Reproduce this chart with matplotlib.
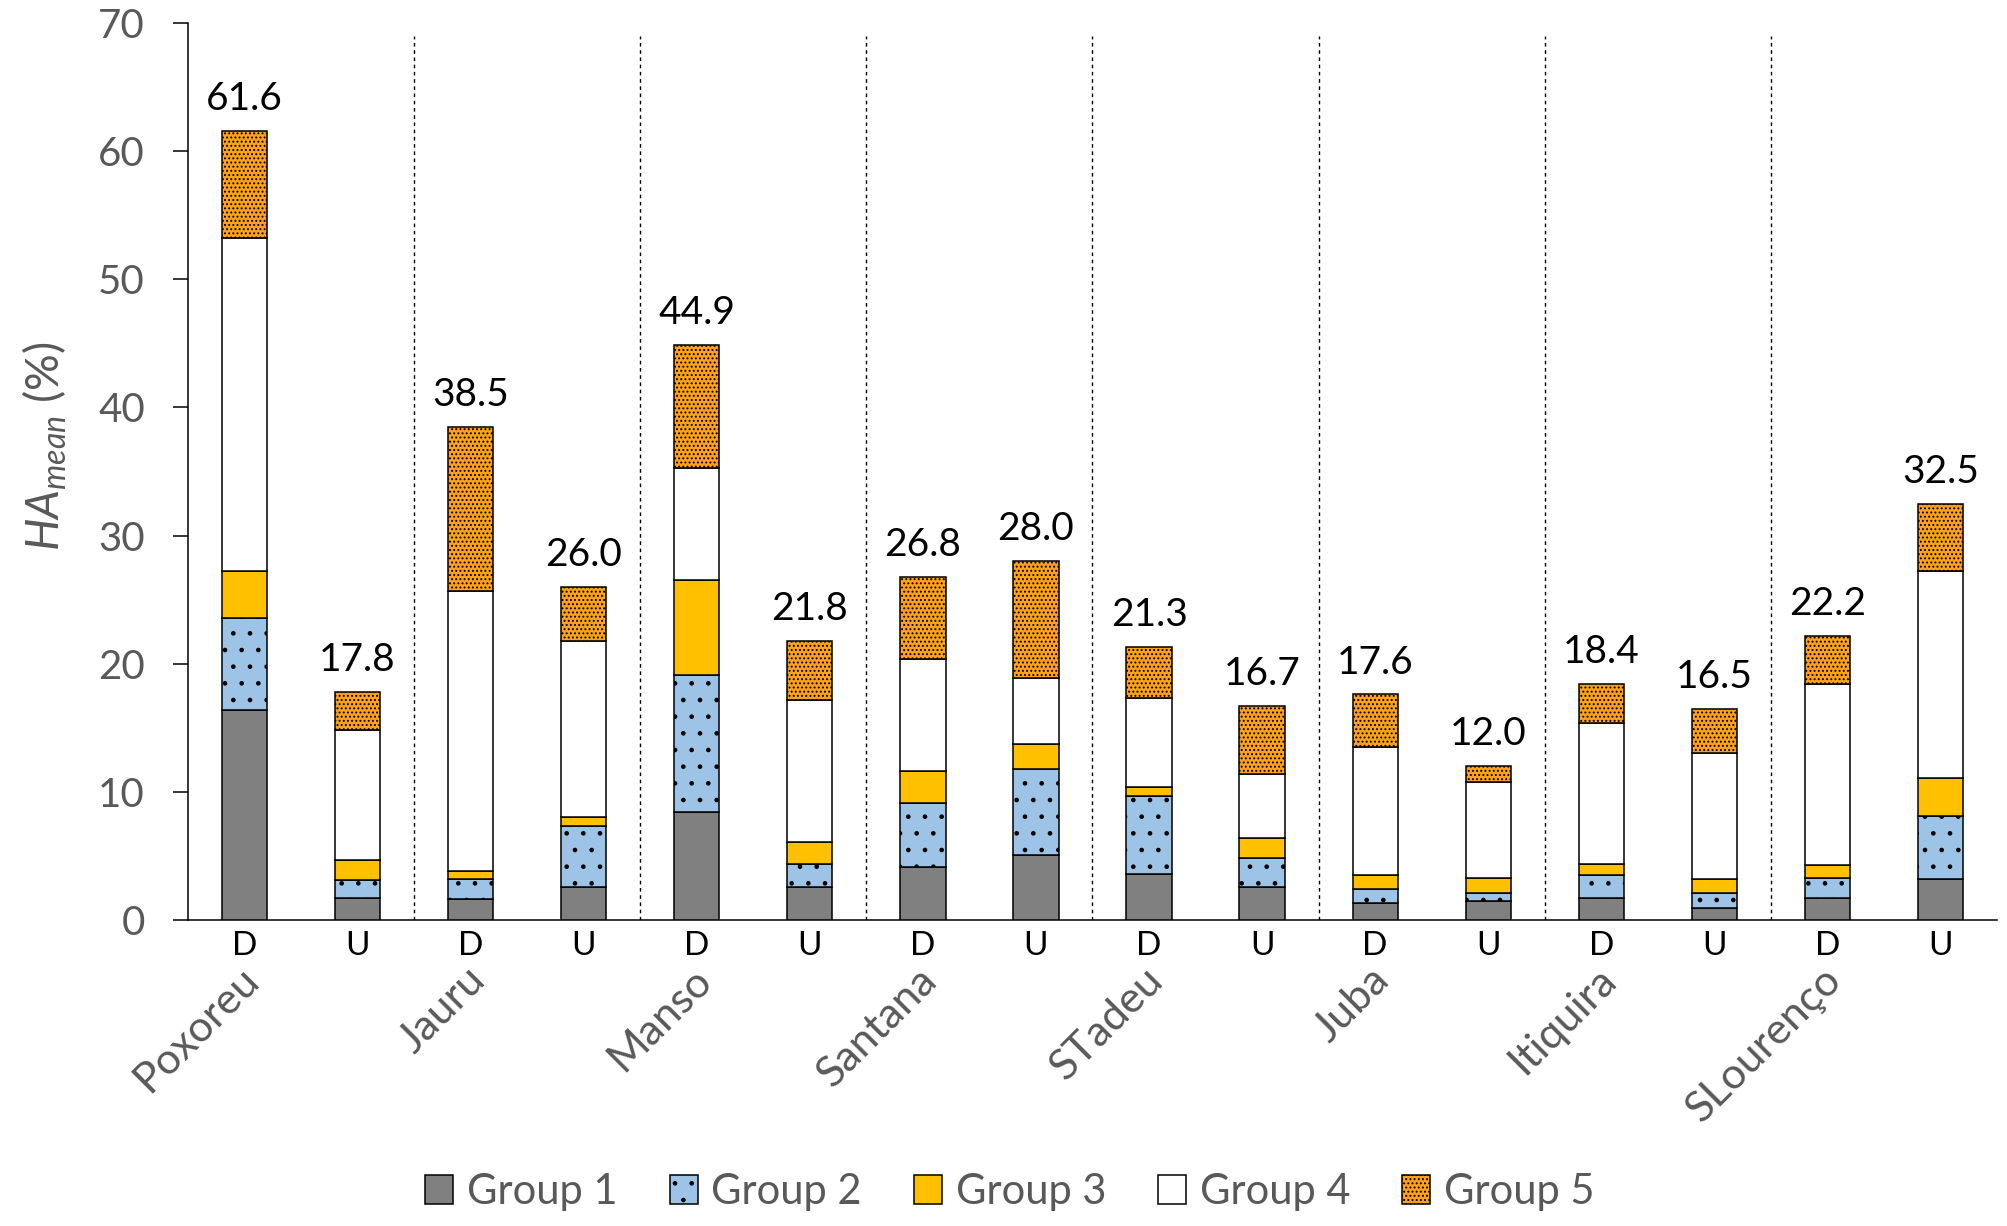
import matplotlib
matplotlib.use('Agg')
import matplotlib.pyplot as plt
import matplotlib.transforms as mtransforms
import numpy as np

plt.rcParams['font.family'] = ['Lato', 'DejaVu Sans']
plt.rcParams['mathtext.fontset'] = 'custom'
plt.rcParams['mathtext.rm'] = 'Lato'
plt.rcParams['mathtext.it'] = 'Lato:italic'
plt.rcParams['hatch.linewidth'] = 0.9

# Data (segment heights, %)
sites = ['Poxoreu', 'Jauru', 'Manso', 'Santana', 'STadeu', 'Juba', 'Itiquira', 'SLourenço']
sides = ['D', 'U'] * len(sites)

group1 = [16.4, 1.7, 1.6, 2.6, 8.4, 2.6, 4.1, 5.1, 3.6, 2.6, 1.3, 1.5, 1.7, 0.9, 1.7, 3.2]
group2 = [7.2, 1.4, 1.6, 4.7, 10.7, 1.8, 5.0, 6.7, 6.1, 2.2, 1.1, 0.6, 1.8, 1.2, 1.6, 4.9]
group3 = [3.6, 1.6, 0.6, 0.7, 7.4, 1.7, 2.5, 1.9, 0.7, 1.6, 1.1, 1.2, 0.9, 1.1, 1.0, 3.0]
group4 = [26.0, 10.1, 21.9, 13.8, 8.8, 11.1, 8.8, 5.2, 6.9, 5.0, 10.0, 7.5, 11.0, 9.8, 14.1, 16.1]
group5 = [8.4, 3.0, 12.8, 4.2, 9.6, 4.6, 6.4, 9.1, 4.0, 5.3, 4.1, 1.2, 3.0, 3.5, 3.8, 5.3]

series = [group1, group2, group3, group4, group5]
names = ['Group 1', 'Group 2', 'Group 3', 'Group 4', 'Group 5']
colors = ['#808080', '#9DC3E6', '#FFC000', '#FFFFFF', '#FFA21A']
hatches = [None, '.', None, None, '....']

grey = '#595959'

fig = plt.figure(figsize=(20.08, 12.26), dpi=100)
ax = fig.add_axes([188 / 2008, 1 - 920 / 1226, (1997 - 188) / 2008, (920 - 23) / 1226])

x = np.arange(len(sides))
bottom = np.zeros(len(sides))
handles = []
for vals, name, col, h in zip(series, names, colors, hatches):
    bars = ax.bar(x, vals, width=0.4, bottom=bottom, color=col, edgecolor='black',
                  linewidth=1.1, hatch=h, label=name, zorder=3)
    handles.append(bars)
    bottom = bottom + np.array(vals)

# totals above bars
for xi, tot in zip(x, bottom):
    ax.annotate('{:.1f}'.format(tot), (xi, tot), xytext=(0, 10), textcoords='offset points',
                ha='center', va='bottom', fontsize=28, color='black')

# dashed separators between sites
ax.vlines(np.arange(1.5, len(sides) - 1, 2), 0, 69, colors='black', linewidth=1.0,
          linestyles=(0, (2.6, 2.6)), zorder=1)

ax.set_xlim(-0.5, len(sides) - 0.5)
ax.set_ylim(0, 70)
ax.set_yticks(range(0, 71, 10))
ax.set_xticks(x)
ax.set_xticklabels(sides, fontsize=24, color='black')
ax.tick_params(axis='x', length=0, pad=8)
ax.tick_params(axis='y', length=11, width=1.1, pad=20, labelsize=29, labelcolor=grey)

for s in ['top', 'right']:
    ax.spines[s].set_visible(False)
for s in ['left', 'bottom']:
    ax.spines[s].set_linewidth(1.1)

# site names, rotated
trans = mtransforms.blended_transform_factory(ax.transData, ax.transAxes)
for i, site in enumerate(sites):
    ax.text(2 * i - 0.05, -0.045, site, transform=trans, rotation=45, rotation_mode='anchor',
            ha='right', va='top', fontsize=31, color=grey)

ax.set_ylabel(r'$\mathit{HA}_{\mathit{mean}}$ (%)', fontsize=33, color=grey)
ax.yaxis.set_label_coords(-0.066, 0.528)

fig.legend(handles=handles, labels=names, loc='center', ncol=5, frameon=False,
           bbox_to_anchor=(1010 / 2008, 1 - 1192 / 1226), fontsize=30,
           handlelength=0.67, handleheight=0.67, handletextpad=0.33, columnspacing=1.25,
           labelcolor=grey)

plt.savefig('out.png', dpi=100)
